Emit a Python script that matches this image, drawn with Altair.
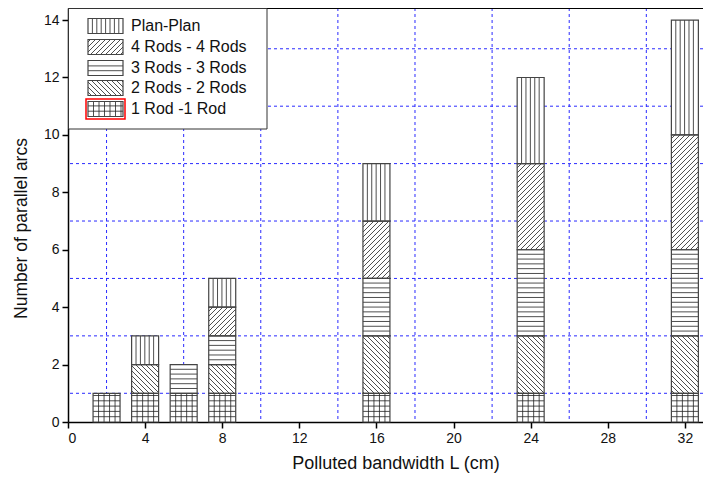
import altair as alt
import pandas as pd
import math

# ---------------- data ----------------
x_vals = [2, 4, 6, 8, 16, 24, 32]
series = ["1 Rod -1 Rod", "2 Rods - 2 Rods", "3 Rods - 3 Rods", "4 Rods - 4 Rods", "Plan-Plan"]
rod1 = [1, 1, 1, 1, 1, 1, 1]
rod2 = [0, 1, 0, 1, 2, 2, 2]
rod3 = [0, 0, 1, 1, 2, 3, 3]
rod4 = [0, 0, 0, 1, 2, 3, 4]
plan = [0, 1, 0, 1, 2, 3, 4]
x_ticks = [0, 4, 8, 12, 16, 20, 24, 28, 32]
y_ticks = [0, 2, 4, 6, 8, 10, 12, 14]
x_grid = [2, 6, 10, 14, 18, 22, 26, 30]
y_grid = [1, 3, 5, 7, 9, 11, 13]
legend_order = ["Plan-Plan", "4 Rods - 4 Rods", "3 Rods - 3 Rods", "2 Rods - 2 Rods", "1 Rod -1 Rod"]

# ---------------- layout / style ----------------
W, H = 635, 414
XMAX, YMAX = 32.94, 14.42
SX, SY = W / XMAX, H / YMAX
BAR_HALF = 0.7
FONT = "Liberation Sans"
pattern = {"1 Rod -1 Rod": "grid", "2 Rods - 2 Rods": "bd", "3 Rods - 3 Rods": "h",
           "4 Rods - 4 Rods": "fd", "Plan-Plan": "v"}


def hatch(kind, ua, ub, va, vb):
    """Pattern line segments inside a rectangle, in y-up pixel units."""
    segs = []
    if kind in ("v", "grid"):
        step = 4.4 if kind == "v" else 5.5
        u = ua + step
        while u < ub - 1.0:
            segs.append((u, va, u, vb))
            u += step
    if kind in ("h", "grid"):
        step = 4.8 if kind == "h" else 5.3
        v = va + step
        while v < vb - 1.0:
            segs.append((ua, v, ub, v))
            v += step
    if kind == "fd":
        d = 5.0
        c = math.floor((ua - vb) / d) * d
        while c < ub - va:
            lo, hi = max(va, ua - c), min(vb, ub - c)
            if hi - lo > 0.5:
                segs.append((lo + c, lo, hi + c, hi))
            c += d
    if kind == "bd":
        d = 5.0
        c = math.floor((ua + va) / d) * d
        while c < ub + vb:
            lo, hi = max(va, c - ub), min(vb, c - ua)
            if hi - lo > 0.5:
                segs.append((c - lo, lo, c - hi, hi))
            c += d
    return segs


values = {series[0]: rod1, series[1]: rod2, series[2]: rod3, series[3]: rod4, series[4]: plan}

seg_rows, hatch_rows = [], []
for i, x in enumerate(x_vals):
    base = 0
    for s in series:
        h = values[s][i]
        if h > 0:
            seg_rows.append({"x0": x - BAR_HALF, "x1": x + BAR_HALF, "y0": base, "y1": base + h, "s": s})
            for (u1, v1, u2, v2) in hatch(pattern[s], (x - BAR_HALF) * SX, (x + BAR_HALF) * SX,
                                         base * SY, (base + h) * SY):
                hatch_rows.append({"hx0": u1 / SX, "hy0": v1 / SY, "hx1": u2 / SX, "hy1": v2 / SY})
            base += h
seg_df = pd.DataFrame(seg_rows)
hatch_df = pd.DataFrame(hatch_rows)

# legend (pixel layout inside plot, converted to data units)
def px2x(p):
    return p / SX


def py2y(p):
    return YMAX - p / SY


row_py = [18, 39, 60, 80, 101]
sw_l, sw_r, sw_h = 20, 55, 15
leg_sw, leg_txt, leg_hatch = [], [], []
for name, py in zip(legend_order, row_py):
    leg_sw.append({"x0": px2x(sw_l), "x1": px2x(sw_r), "y0": py2y(py - sw_h / 2), "y1": py2y(py + sw_h / 2)})
    leg_txt.append({"tx": px2x(63), "ty": py2y(py), "label": name})
    for (u1, v1, u2, v2) in hatch(pattern[name], sw_l, sw_r, H - (py + sw_h / 2), H - (py - sw_h / 2)):
        leg_hatch.append({"hx0": u1 / SX, "hy0": v1 / SY, "hx1": u2 / SX, "hy1": v2 / SY})
leg_box = pd.DataFrame([{"x0": px2x(0.5), "x1": px2x(199), "y0": py2y(0.5), "y1": py2y(121)}])
red_py = row_py[-1]
leg_red = pd.DataFrame([{"x0": px2x(18), "x1": px2x(57), "y0": py2y(red_py - 10), "y1": py2y(red_py + 10)}])

# ---------------- encodings ----------------
xs = alt.Scale(domain=[0, XMAX], nice=False, zero=False)
ys = alt.Scale(domain=[0, YMAX], nice=False, zero=False)
xax = alt.Axis(values=x_ticks, grid=False, format="d", tickSize=6, tickWidth=1.5, tickColor="black",
               domainColor="black", domainWidth=1.5, labelFont=FONT, labelFontSize=14, labelColor="#111111",
               labelPadding=3, titleFont=FONT, titleFontSize=18, titleFontWeight="normal",
               titleColor="#111111", titlePadding=9, titleX=W / 2 + 10)
yax = alt.Axis(values=y_ticks, grid=False, format="d", tickSize=6, tickWidth=1.5, tickColor="black",
               domainColor="black", domainWidth=1.5, labelFont=FONT, labelFontSize=14, labelColor="#111111",
               labelPadding=3, titleFont=FONT, titleFontSize=17.5, titleFontWeight="normal",
               titleColor="#111111", titlePadding=13, titleY=H / 2 + 13)
XT = "Polluted bandwidth L (cm)"
YT = "Number of parallel arcs"


def X(f):
    return alt.X(f, type="quantitative", scale=xs, axis=xax, title=XT)


def Y(f):
    return alt.Y(f, type="quantitative", scale=ys, axis=yax, title=YT)


GRID = dict(color="#2a2aff", strokeDash=[3, 3], strokeWidth=1)
gx = alt.Chart(pd.DataFrame({"g": x_grid})).mark_rule(**GRID).encode(x=X("g"))
gy = alt.Chart(pd.DataFrame({"g": y_grid})).mark_rule(**GRID).encode(y=Y("g"))

bars_fill = alt.Chart(seg_df).mark_rect(fill="white", strokeWidth=0).encode(
    x=X("x0"), x2="x1", y=Y("y0"), y2="y1")
bars_hatch = alt.Chart(hatch_df).mark_rule(stroke="#222222", strokeWidth=0.8).encode(
    x=X("hx0"), x2="hx1", y=Y("hy0"), y2="hy1")
bars_edge = alt.Chart(seg_df).mark_rect(fillOpacity=0, stroke="#444444", strokeWidth=1.2).encode(
    x=X("x0"), x2="x1", y=Y("y0"), y2="y1")

top_line = alt.Chart(pd.DataFrame({"a": [0]})).mark_rule(color="black", strokeWidth=2).encode(
    x=alt.value(0), x2=alt.value(W), y=alt.value(0))

box = alt.Chart(leg_box).mark_rect(fill="white", stroke="#333333", strokeWidth=1).encode(
    x=X("x0"), x2="x1", y=Y("y0"), y2="y1")
sw_fill = alt.Chart(pd.DataFrame(leg_sw)).mark_rect(fill="white", strokeWidth=0).encode(
    x=X("x0"), x2="x1", y=Y("y0"), y2="y1")
sw_hatch = alt.Chart(pd.DataFrame(leg_hatch)).mark_rule(stroke="#222222", strokeWidth=0.8).encode(
    x=X("hx0"), x2="hx1", y=Y("hy0"), y2="hy1")
sw_edge = alt.Chart(pd.DataFrame(leg_sw)).mark_rect(fillOpacity=0, stroke="#444444", strokeWidth=1.2).encode(
    x=X("x0"), x2="x1", y=Y("y0"), y2="y1")
txt = alt.Chart(pd.DataFrame(leg_txt)).mark_text(align="left", baseline="middle", font=FONT,
                                                 fontSize=16, color="#111111").encode(
    x=X("tx"), y=Y("ty"), text="label:N")
red = alt.Chart(leg_red).mark_rect(fillOpacity=0, stroke="#ff0000", strokeWidth=1.5).encode(
    x=X("x0"), x2="x1", y=Y("y0"), y2="y1")

chart = alt.layer(gx, gy, bars_fill, bars_hatch, bars_edge, top_line,
                  box, sw_fill, sw_hatch, sw_edge, txt, red).properties(
    width=W, height=H,
    autosize=alt.AutoSizeParams(type="none"),
    padding={"left": 60, "top": 0, "right": 0, "bottom": 51},
    background="white",
).configure_view(stroke=None)

chart.save("out.html", embed_options={"renderer": "svg", "actions": False})
